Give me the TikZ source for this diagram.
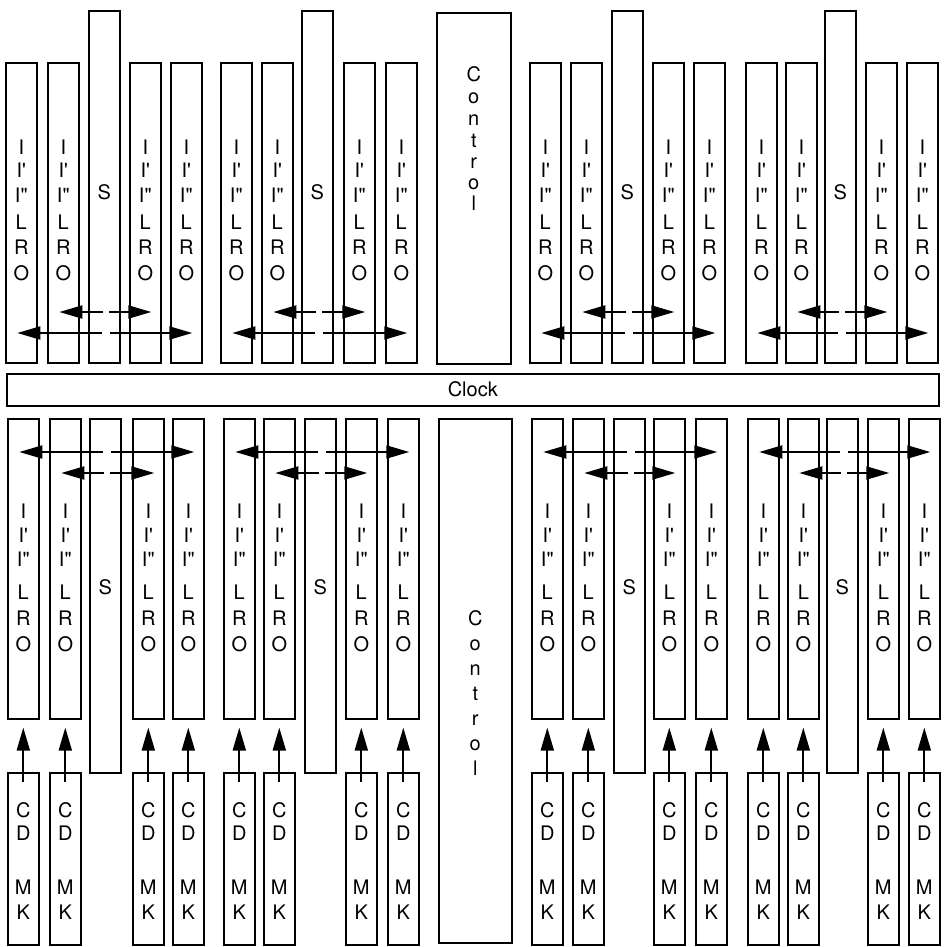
\documentclass[tikz,border=0pt]{standalone}
\usepackage{fontspec}
\setmainfont{TeX Gyre Heros}
\usetikzlibrary{arrows.meta,calc}
\begin{document}
\begin{tikzpicture}[x=1pt,y=-1pt,
  bx/.style={draw,line width=1.6pt,inner sep=0pt,minimum width=31pt,anchor=north west},
  lab/.style={font=\fontsize{20}{20}\selectfont,inner sep=0pt,text height=14pt,text depth=0pt},
  arr/.style={line width=2pt,-{Triangle[length=23pt,width=13pt]}},
]
\useasboundingbox (0,0) rectangle (944,947);

% Clock
\node[bx,minimum width=932pt,minimum height=32pt] (clock) at (6,373) {};
\node[lab] (clocktxt) at (clock.center) {Clock};

% Control boxes
\node[bx,minimum width=74pt,minimum height=351pt] (ctop) at (436,12) {};
\foreach \ch/\yy [count=\k] in {C/82,o/104,n/125,t/147,r/168,o/189,l/210}
  \node[lab,anchor=base] (ctop-\k) at (ctop.center |- 0,\yy) {\ch};
\node[bx,minimum width=73pt,minimum height=524pt] (cbot) at (438,418) {};
\foreach \ch/\yy [count=\k] in {C/625,o/650,n/675,t/700,r/725,o/750,l/775}
  \node[lab,anchor=base] (cbot-\k) at (cbot.center |- 0,\yy) {\ch};

% Top half
\foreach \g/\xa/\xb/\xs/\xd/\xe in {1/5/47/88/129/170, 2/220/261/301/343/385, 3/529/570/611/652/693, 4/745/785/824/865/906}{
  \node[bx,minimum height=300pt] (T\g-1) at (\xa,62) {};
  \node[bx,minimum height=300pt] (T\g-2) at (\xb,62) {};
  \node[bx,minimum height=352pt] (T\g-3) at (\xs,10) {};
  \node[bx,minimum height=300pt] (T\g-4) at (\xd,62) {};
  \node[bx,minimum height=300pt] (T\g-5) at (\xe,62) {};
  \node[lab] (T\g-S) at (T\g-3.center |- 0,192) {S};
  \foreach \c in {1,2,4,5}{
    \foreach \txt/\yy [count=\k] in {I/147,I\textquotesingle/170,I\textquotedbl/195,L/222,R/247,O/273}
      \node[lab] (T\g-\c-\k) at (T\g-\c.center |- 0,\yy) {\txt};
  }
  \coordinate (TOL\g) at ($(T\g-1.center |- 0,333)+(-4,0)$);
  \coordinate (TOR\g) at ($(T\g-5.center |- 0,333)+(6,0)$);
  \coordinate (TOM\g) at ($(T\g-3.center |- 0,333)+(2,0)$);
  \coordinate (TIL\g) at ($(T\g-2.center |- 0,312)+(-4,0)$);
  \coordinate (TIR\g) at ($(T\g-4.center |- 0,312)+(6,0)$);
  \coordinate (TIM\g) at ($(T\g-3.center |- 0,312)+(2,0)$);
  \draw[arr] ([xshift=-4pt]TOM\g) -- (TOL\g);
  \draw[arr] ([xshift=4pt]TOM\g) -- (TOR\g);
  \draw[arr] ([xshift=-3pt]TIM\g) -- (TIL\g);
  \draw[arr] ([xshift=3pt]TIM\g) -- (TIR\g);
}

% Bottom half
\foreach \g/\xa/\xb/\xs/\xd/\xe in {1/7/49/89/132/172, 2/223/263/304/345/387, 3/531/572/613/653/695, 4/747/787/826/867/908}{
  \node[bx,minimum height=300pt] (B\g-1) at (\xa,418) {};
  \node[bx,minimum height=300pt] (B\g-2) at (\xb,418) {};
  \node[bx,minimum height=354pt] (B\g-3) at (\xs,418) {};
  \node[bx,minimum height=300pt] (B\g-4) at (\xd,418) {};
  \node[bx,minimum height=300pt] (B\g-5) at (\xe,418) {};
  \node[lab] (B\g-S) at (B\g-3.center |- 0,587) {S};
  \foreach \c/\xx in {1/\xa,2/\xb,4/\xd,5/\xe}{
    \foreach \txt/\yy [count=\k] in {I/511,I\textquotesingle/535,I\textquotedbl/559,L/592,R/618,O/644}
      \node[lab] (B\g-\c-\k) at (B\g-\c.center |- 0,\yy) {\txt};
    \node[bx,minimum height=172pt] (K\g-\c) at (\xx,772) {};
    \foreach \txt/\yy [count=\k] in {C/810,D/833,M/887,K/912}
      \node[lab] (K\g-\c-\k) at (K\g-\c.center |- 0,\yy) {\txt};
    \draw[arr] ([yshift=-10pt]K\g-\c.north) -- ([yshift=-8pt]B\g-\c.south);
  }
  \coordinate (BOL\g) at ($(B\g-1.center |- 0,452)+(-4,0)$);
  \coordinate (BOR\g) at ($(B\g-5.center |- 0,452)+(6,0)$);
  \coordinate (BOM\g) at ($(B\g-3.center |- 0,452)+(2,0)$);
  \coordinate (BIL\g) at ($(B\g-2.center |- 0,473)+(-4,0)$);
  \coordinate (BIR\g) at ($(B\g-4.center |- 0,473)+(6,0)$);
  \coordinate (BIM\g) at ($(B\g-3.center |- 0,473)+(2,0)$);
  \draw[arr] ([xshift=-4pt]BOM\g) -- (BOL\g);
  \draw[arr] ([xshift=4pt]BOM\g) -- (BOR\g);
  \draw[arr] ([xshift=-3pt]BIM\g) -- (BIL\g);
  \draw[arr] ([xshift=3pt]BIM\g) -- (BIR\g);
}
\end{tikzpicture}
\end{document}
